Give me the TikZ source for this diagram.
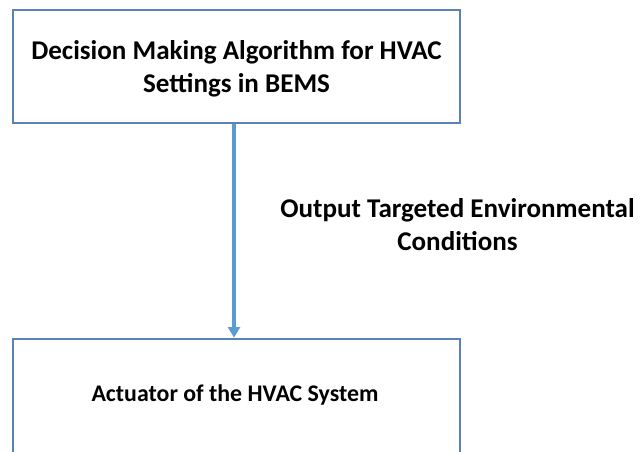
\documentclass[tikz,border=0pt]{standalone}
\usepackage{fontspec}
\setmainfont{Carlito}
\usetikzlibrary{arrows.meta}
\definecolor{boxblue}{HTML}{5B82B4}
\definecolor{arrowblue}{HTML}{5B9BD5}
\tikzset{
  boxline/.style={draw=boxblue, line width=1.8pt},
  bigtext/.style={font=\bfseries\fontsize{20.3}{24.75}\selectfont, align=center, inner sep=0pt},
  smalltext/.style={font=\bfseries\fontsize{17.9}{22}\selectfont, align=center, inner sep=0pt},
  flow/.style={draw=arrowblue, line width=2.6pt, -{Triangle[length=8pt,width=9pt]}}
}
\begin{document}
\begin{tikzpicture}[x=0.75pt,y=-0.75pt]
\useasboundingbox (0,0) rectangle (641,452);
% top box
\node[boxline, minimum width=447*0.75pt, minimum height=113*0.75pt, inner sep=0pt] (top) at (236.5,66.5) {};
\node[bigtext] (toptext) at (236.5,68.5) {Decision Making Algorithm for HVAC\\Settings in BEMS};
% bottom box (cut off at bottom)
\coordinate (bl) at (13,453);
\coordinate (tl) at (13,339);
\coordinate (tr) at (460,339);
\coordinate (br) at (460,453);
\draw[boxline] (bl) -- (tl) -- (tr) -- (br);
\coordinate (bottomtop) at (234,339);
\node[smalltext] (bottomtext) at (235,395) {Actuator of the HVAC System};
% arrow
\draw[flow] (top.south -| bottomtop) -- ([yshift=1pt]bottomtop);
% label
\node[bigtext] (label) at (457.5,225) {Output Targeted Environmental\\Conditions};
\end{tikzpicture}
\end{document}
